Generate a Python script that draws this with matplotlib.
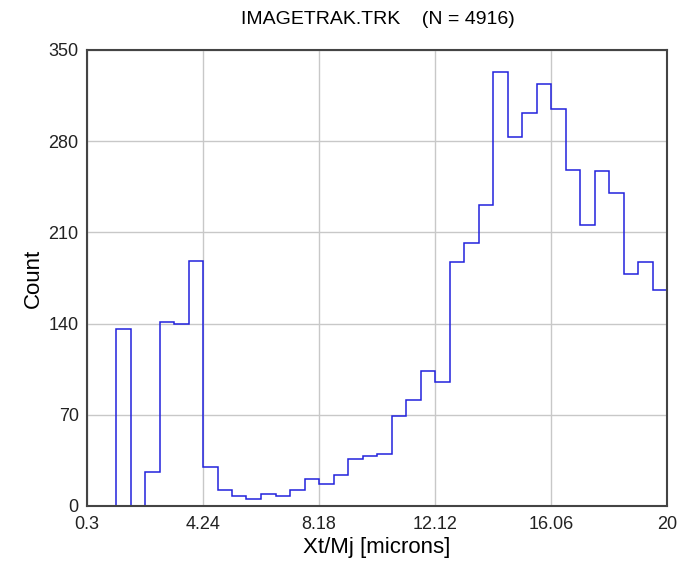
import numpy as np
import matplotlib
matplotlib.use("Agg")
import matplotlib.pyplot as plt

x_min, x_max, n_bins = 0.3, 20.0, 40
counts = [0, 0, 136, 0, 26, 141, 140, 188, 30, 12,
          8, 5, 9, 8, 12, 21, 17, 24, 36, 38,
          40, 69, 81, 104, 95, 187, 202, 231, 333, 283,
          302, 324, 305, 258, 216, 257, 240, 178, 187, 166]
x_ticks = [0.3, 4.24, 8.18, 12.12, 16.06, 20]
x_tick_labels = ["0.3", "4.24", "8.18", "12.12", "16.06", "20"]
y_ticks = [0, 70, 140, 210, 280, 350]
title = "IMAGETRAK.TRK    (N = 4916)"

plt.rcParams['font.family'] = ['Liberation Sans', 'DejaVu Sans']

fig = plt.figure(figsize=(6.77, 5.62), dpi=100)
ax = fig.add_axes([87/677, 1-506/562, 580/677, 456/562])

edges = np.linspace(x_min, x_max, n_bins + 1)
ax.stairs(counts, edges, color='#2222dd', linewidth=1.1, baseline=0)

ax.set_xlim(x_min, x_max)
ax.set_ylim(0, 350)
ax.set_xticks(x_ticks)
ax.set_xticklabels(x_tick_labels)
ax.set_yticks(y_ticks)
ax.grid(True, color='#c8c8c8', linewidth=1.0)
ax.set_axisbelow(True)
ax.tick_params(length=0, labelsize=13, colors='#222222')
ax.tick_params(axis='x', pad=7)
ax.tick_params(axis='y', pad=6)
for s in ax.spines.values():
    s.set_color('#444444')
    s.set_linewidth(1.5)

ax.set_xlabel("Xt/Mj [microns]", fontsize=16, labelpad=3)
ax.set_ylabel("Count", fontsize=16, labelpad=14)
ax.yaxis.set_label_coords(-32/580 - 0.02, 0.5)
fig.text(378/677, 1-20/562, title, ha='center', va='center', fontsize=14)

fig.savefig("out.png", dpi=100)
